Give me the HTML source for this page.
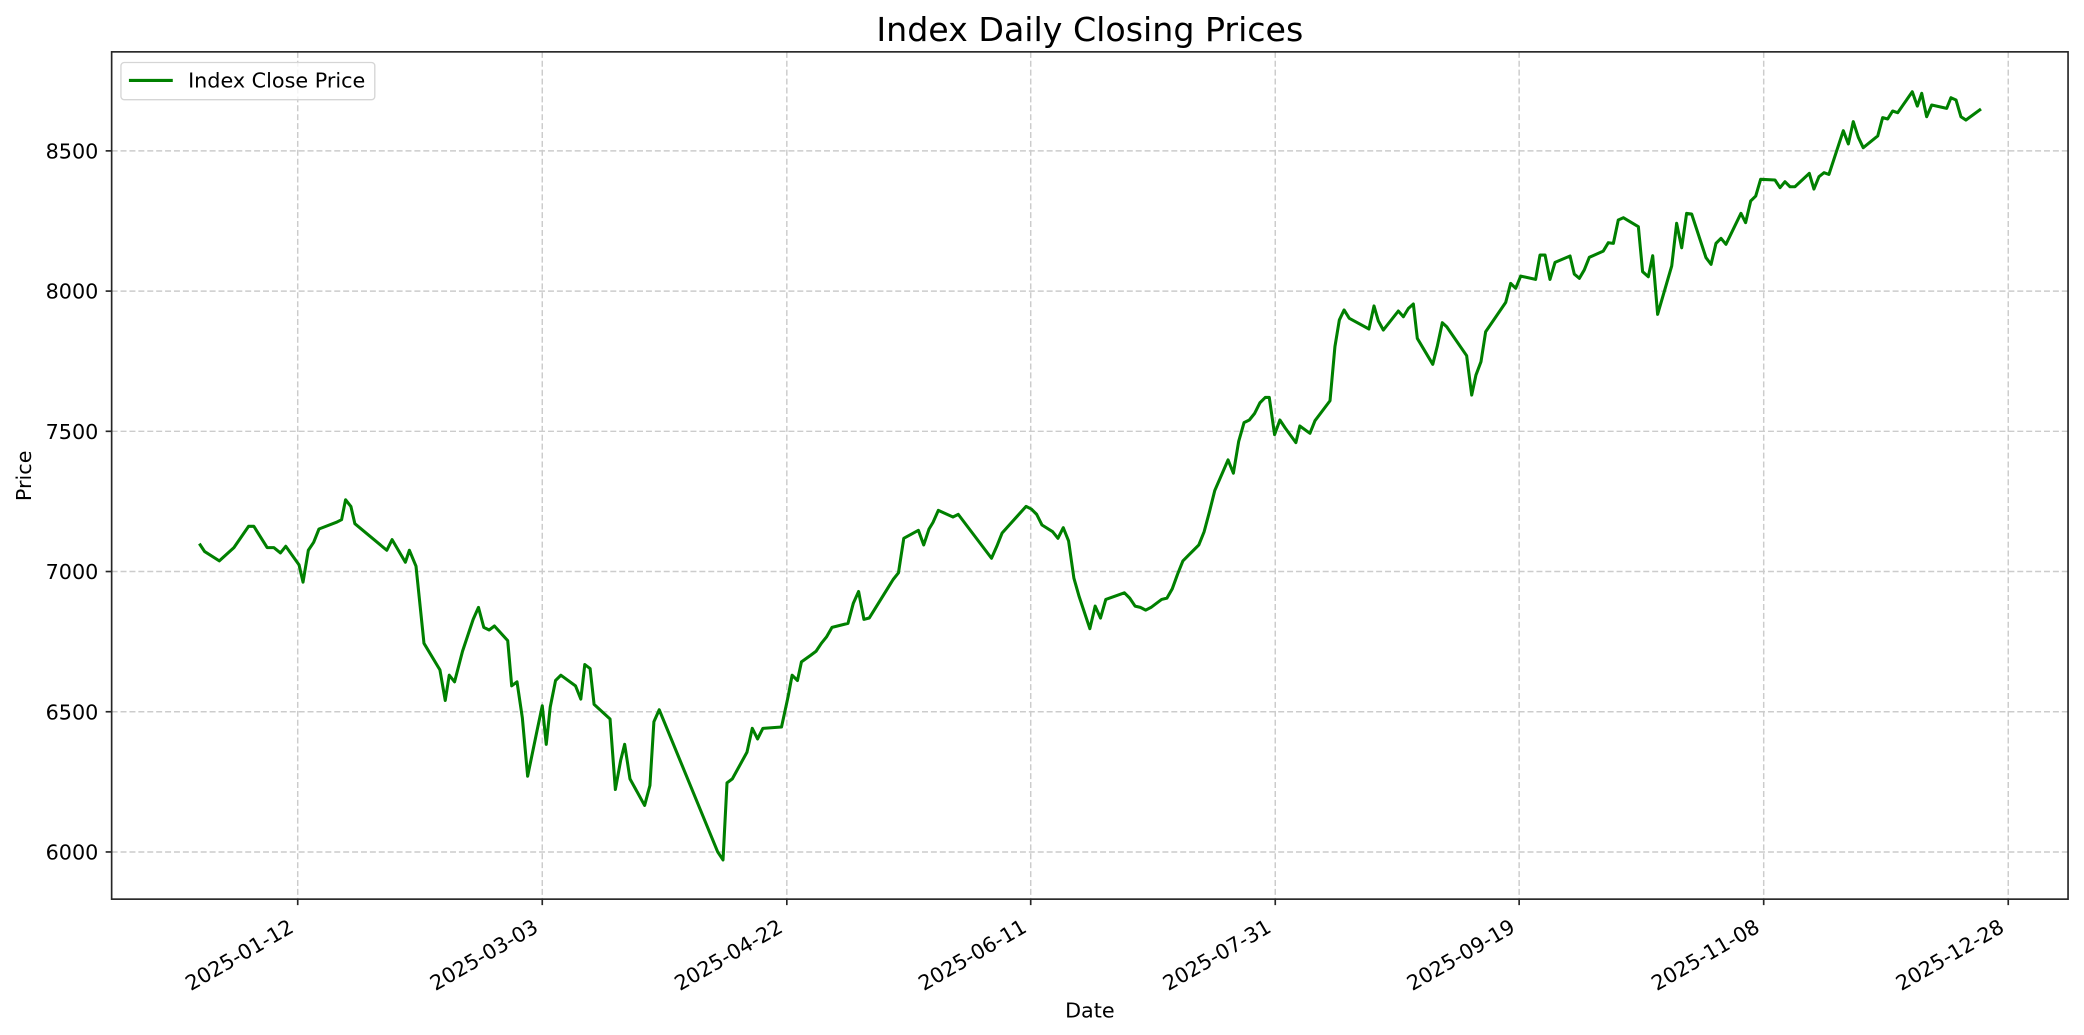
<!DOCTYPE html>
<html><head><meta charset="utf-8"><style>
html,body{margin:0;padding:0;background:#fff;}
svg{display:block;}
text{font-family:"DejaVu Sans","Liberation Sans",sans-serif;fill:#000;}
</style></head><body>
<svg width="2084" height="1035" viewBox="0 0 1568 778.7" xmlns="http://www.w3.org/2000/svg">
<rect x="0" y="0" width="1568" height="778.7" fill="#fff"/>
<g stroke="#cccccc" stroke-width="1.1" stroke-dasharray="4.5,2.2" fill="none">
<line x1="224" y1="39" x2="224" y2="676.5"/>
<line x1="408" y1="39" x2="408" y2="676.5"/>
<line x1="592" y1="39" x2="592" y2="676.5"/>
<line x1="775.5" y1="39" x2="775.5" y2="676.5"/>
<line x1="959.5" y1="39" x2="959.5" y2="676.5"/>
<line x1="1143" y1="39" x2="1143" y2="676.5"/>
<line x1="1327" y1="39" x2="1327" y2="676.5"/>
<line x1="1511" y1="39" x2="1511" y2="676.5"/>
<line x1="84" y1="113.5" x2="1556" y2="113.5"/>
<line x1="84" y1="219" x2="1556" y2="219"/>
<line x1="84" y1="324.5" x2="1556" y2="324.5"/>
<line x1="84" y1="430" x2="1556" y2="430"/>
<line x1="84" y1="535.5" x2="1556" y2="535.5"/>
<line x1="84" y1="641" x2="1556" y2="641"/>
</g>
<polyline fill="none" stroke="#008000" stroke-width="2.3" stroke-linejoin="round" points="
150,409 154,415 165,422 176,412 187,396 191,396 201,412 206,412 211,416 215,411 225,425 228,438 232,414 236,408 240,398 253,393 257,391 260,376 264,381 267,394 291,414 295,406 305,423 308,414 313,426 319,484 331,504 335,527 338,508 342,513 348,490 356,466 360,457 364,472 368,474 372,471 382,482 385,516 389,513 393,540 397,584 404,550 408,531 411,560 414,532 418,512 422,508 433,516 437,526 440,500 444,503 447,530 459,541 463,594 467,572 470,560 474,586 485,606 489,591 492,543 496,534 540,641 544,647 547,589 551,586 562,566 566,548 570,556 574,548 588,547 593,524 596,508 600,512 603,498 610,493 614,490 618,484 622,479 626,472 638,469 642,454 646,445 650,466 654,465 672,436 676,431 680,405 691,399 695,410 699,398 702,393 706,384 717,389 721,387 746,420 750,411 754,401 772,381 776,383 780,387 784,395 792,400 796,405 800,397 804,407 808,435 812,449 820,473 824,456 828,465 832,451 846,446 850,450 854,456 858,457 862,459 866,457 874,451 878,450 882,443 886,432 890,422 894,418 898,414 902,410 906,400 910,385 914,369 924,346 928,356 932,332 936,318 940,316 944,311 948,303 952,299 955,299 959,327 963,316 967,322 975,333 978,320.5 985.6,326 989.4,316.5 1000.7,301.5 1004.4,260.8 1007.7,240.8 1011.3,233.2 1015.2,239.5 1030,247.5 1033.8,230.2 1037,241.3 1040.8,248.3 1052.1,234 1055.9,238.3 1059.7,232 1063.4,228.7 1066.4,254.6 1078,274.1 1081.5,260.1 1085.2,242.8 1088.5,245.8 1103.5,267.6 1107.3,297.2 1110.5,282.2 1114.3,272.1 1117.8,249.6 1132.9,227.5 1136.6,213.2 1140.4,216.9 1144.2,207.7 1155.4,210.2 1158.7,191.9 1162.5,191.9 1166.2,210.2 1170,197.4 1181.3,192.6 1184.5,206.2 1188.3,209.4 1192,203.1 1195.8,193.6 1206.3,188.9 1210.1,182.6 1213.9,183.1 1217.6,165.5 1221.4,163.8 1232.7,170.5 1235.9,204.4 1240.2,208.2 1243.5,192.4 1247.2,236.5 1257.8,200.1 1261.5,168 1265.3,186.4 1269,160.5 1272.8,161 1283.6,193.9 1287.4,198.9 1291.1,183.1 1294.9,179.3 1298.6,183.8 1309.9,160.5 1313.4,167.5 1317.2,151.2 1321,147.5 1324.7,134.9 1335.5,135.4 1339.3,141.2 1343,136.7 1346.8,140.5 1350.5,140.5 1361.3,130.4 1364.8,142.2 1368.6,132.9 1372.4,129.9 1376.1,131.2 1386.9,98.3 1390.7,108.3 1394.4,91.5 1398.2,103.3 1401.9,111.1 1412.8,102.3 1416.5,88.5 1420.3,89.5 1424,83.5 1427.8,84.8 1438.8,69 1442.6,79.8 1445.9,70.2 1449.6,87.8 1453.4,79 1464.7,81.5 1467.9,73.5 1471.7,75.2 1475.4,87.8 1479.2,90.3 1490.5,82"/>
<rect x="84" y="39" width="1472" height="637.5" fill="none" stroke="#262626" stroke-width="1.25"/>
<g stroke="#262626" stroke-width="1.25">
<line x1="224" y1="676.5" x2="224" y2="681"/><line x1="408" y1="676.5" x2="408" y2="681"/><line x1="592" y1="676.5" x2="592" y2="681"/><line x1="775.5" y1="676.5" x2="775.5" y2="681"/><line x1="959.5" y1="676.5" x2="959.5" y2="681"/><line x1="1143" y1="676.5" x2="1143" y2="681"/><line x1="1327" y1="676.5" x2="1327" y2="681"/><line x1="1511" y1="676.5" x2="1511" y2="681"/>
<line x1="79.5" y1="113.5" x2="84" y2="113.5"/><line x1="79.5" y1="219" x2="84" y2="219"/><line x1="79.5" y1="324.5" x2="84" y2="324.5"/><line x1="79.5" y1="430" x2="84" y2="430"/><line x1="79.5" y1="535.5" x2="84" y2="535.5"/><line x1="79.5" y1="641" x2="84" y2="641"/>
</g>
<g font-size="15.6" text-anchor="end">
<text x="74" y="119.2">8500</text><text x="74" y="224.7">8000</text><text x="74" y="330.2">7500</text><text x="74" y="435.7">7000</text><text x="74" y="541.2">6500</text><text x="74" y="646.7">6000</text>
</g>
<g font-size="15.6" text-anchor="end">
<text transform="translate(222,700.5) rotate(-30)">2025-01-12</text>
<text transform="translate(406,700.5) rotate(-30)">2025-03-03</text>
<text transform="translate(590,700.5) rotate(-30)">2025-04-22</text>
<text transform="translate(773.5,700.5) rotate(-30)">2025-06-11</text>
<text transform="translate(957.5,700.5) rotate(-30)">2025-07-31</text>
<text transform="translate(1141,700.5) rotate(-30)">2025-09-19</text>
<text transform="translate(1325,700.5) rotate(-30)">2025-11-08</text>
<text transform="translate(1509,700.5) rotate(-30)">2025-12-28</text>
</g>
<text x="820" y="765.5" font-size="15.6" text-anchor="middle">Date</text>
<text transform="translate(23.5,358) rotate(-90)" font-size="15.6" text-anchor="middle">Price</text>
<text x="820" y="31" font-size="25" text-anchor="middle">Index Daily Closing Prices</text>
<rect x="91" y="47" width="191" height="28" rx="2.5" fill="#fff" fill-opacity="0.8" stroke="#d5d5d5" stroke-width="1"/>
<line x1="97" y1="60.5" x2="130" y2="60.5" stroke="#008000" stroke-width="2.3"/>
<text x="141.5" y="66" font-size="15.6">Index Close Price</text>
</svg>
</body></html>
